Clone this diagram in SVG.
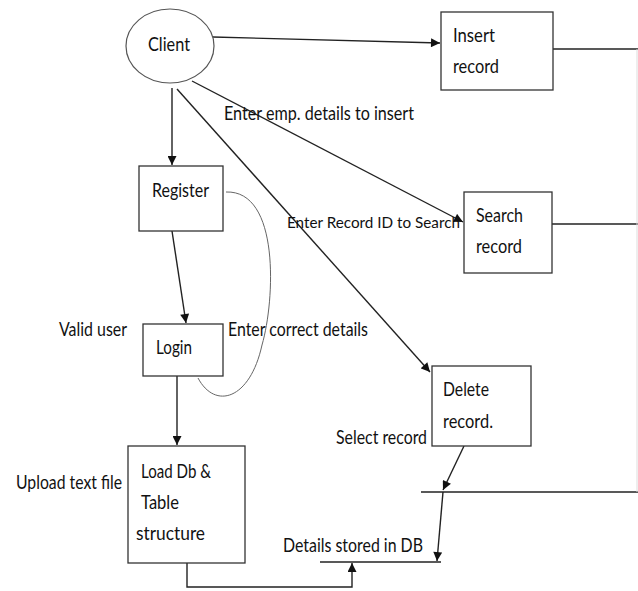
<svg xmlns="http://www.w3.org/2000/svg" width="638" height="591" viewBox="0 0 638 591">
<style>
.box{fill:#fff;stroke:#333;stroke-width:1.3}
.ln{fill:none;stroke:#222;stroke-width:1.4}
.t{font-family:Lato,"Open Sans",sans-serif;font-size:19px;fill:#111}
</style>
<defs>
<marker id="ah" viewBox="0 0 10 10" refX="10" refY="5" markerWidth="10" markerHeight="9" markerUnits="userSpaceOnUse" orient="auto">
<path d="M0,0 L10,5 L0,10 z" fill="#111"/>
</marker>
</defs>
<rect width="638" height="591" fill="#fff"/>
<g id="connectors">
<line class="ln" x1="213" y1="37" x2="440" y2="43" marker-end="url(#ah)"/>
<line class="ln" x1="192" y1="81" x2="463" y2="222" marker-end="url(#ah)"/>
<line class="ln" x1="177" y1="89" x2="430" y2="372" marker-end="url(#ah)"/>
<line class="ln" x1="172" y1="88" x2="172" y2="165" marker-end="url(#ah)"/>
<line class="ln" x1="172" y1="231" x2="186" y2="323" marker-end="url(#ah)"/>
<line class="ln" x1="177" y1="376" x2="177" y2="445" marker-end="url(#ah)"/>
<path d="M226,192 C280,190 275,300 262,345 C250,400 215,410 198,378" fill="none" stroke="#666" stroke-width="1"/>
<polyline class="ln" points="187,563 187,587 352,587 352,563" marker-end="url(#ah)"/>
<line class="ln" x1="464" y1="446" x2="443" y2="490" marker-end="url(#ah)"/>
<line class="ln" x1="443" y1="492" x2="437" y2="561" marker-end="url(#ah)"/>
<line class="ln" x1="553" y1="49" x2="638" y2="49"/>
<line class="ln" x1="547" y1="224" x2="638" y2="224"/>
<line class="ln" x1="421" y1="492" x2="638" y2="492"/>
<line class="ln" x1="320" y1="562" x2="441" y2="562"/>
<line x1="637" y1="49" x2="637" y2="492" stroke="#ddd" stroke-width="1"/>
</g>
<g id="client">
<ellipse cx="170" cy="46" rx="44" ry="37" fill="#fff" stroke="#555" stroke-width="1.2"/>
<text class="t" x="148" y="51" textLength="42" lengthAdjust="spacingAndGlyphs">Client</text>
</g>
<g id="insert">
<rect class="box" x="441" y="12" width="112" height="78"/>
<text class="t" x="453" y="42" textLength="42" lengthAdjust="spacingAndGlyphs">Insert</text>
<text class="t" x="453" y="73" textLength="46" lengthAdjust="spacingAndGlyphs">record</text>
</g>
<g id="search">
<rect class="box" x="464" y="192" width="88" height="81"/>
<text class="t" x="476" y="222" textLength="47" lengthAdjust="spacingAndGlyphs">Search</text>
<text class="t" x="476" y="253" textLength="46" lengthAdjust="spacingAndGlyphs">record</text>
</g>
<g id="register">
<rect class="box" x="139" y="166" width="84" height="65"/>
<text class="t" x="152" y="197" textLength="57" lengthAdjust="spacingAndGlyphs">Register</text>
</g>
<g id="login">
<rect class="box" x="143" y="324" width="80" height="52"/>
<text class="t" x="156" y="354" textLength="36" lengthAdjust="spacingAndGlyphs">Login</text>
</g>
<g id="load">
<rect class="box" x="128" y="446" width="117" height="117"/>
<text class="t" x="141" y="478" textLength="70" lengthAdjust="spacingAndGlyphs">Load Db &amp;</text>
<text class="t" x="141" y="509" textLength="38" lengthAdjust="spacingAndGlyphs">Table</text>
<text class="t" x="136" y="540" textLength="69" lengthAdjust="spacingAndGlyphs">structure</text>
</g>
<g id="delete">
<rect class="box" x="432" y="366" width="99" height="80"/>
<text class="t" x="443" y="396" textLength="46" lengthAdjust="spacingAndGlyphs">Delete</text>
<text class="t" x="443" y="428" textLength="50" lengthAdjust="spacingAndGlyphs">record.</text>
</g>
<g id="labels">
<text class="t" x="224" y="120" textLength="190" lengthAdjust="spacingAndGlyphs">Enter emp. details to insert</text>
<text class="t" x="287" y="228" style="font-size:16px" textLength="173" lengthAdjust="spacingAndGlyphs">Enter Record ID to Search</text>
<text class="t" x="59" y="336" textLength="68" lengthAdjust="spacingAndGlyphs">Valid user</text>
<text class="t" x="228" y="336" textLength="140" lengthAdjust="spacingAndGlyphs">Enter correct details</text>
<text class="t" x="336" y="444" textLength="91" lengthAdjust="spacingAndGlyphs">Select record</text>
<text class="t" x="16" y="489" textLength="106" lengthAdjust="spacingAndGlyphs">Upload text file</text>
<text class="t" x="283" y="552" textLength="140" lengthAdjust="spacingAndGlyphs">Details stored in DB</text>
</g>
</svg>
